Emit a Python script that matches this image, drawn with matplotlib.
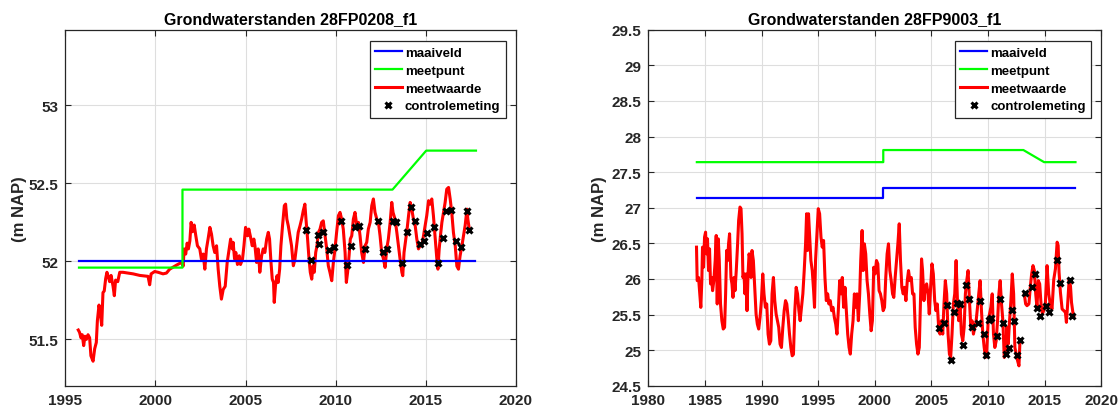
import numpy as np
import matplotlib
matplotlib.use("Agg")
import matplotlib.pyplot as plt
from matplotlib.ticker import FuncFormatter

plt.rcParams['font.family'] = ['Liberation Sans', 'DejaVu Sans']
plt.rcParams['font.weight'] = 'bold'

# ---- left well 28FP0208_f1 ----
l_title = "Grondwaterstanden 28FP0208_f1"
l_maaiveld_x = [1995.76, 2017.75]
l_maaiveld_y = [52.0, 52.0]
l_meetpunt_x = [1995.76, 2001.5, 2001.5, 2013.15, 2015.02, 2017.78]
l_meetpunt_y = [51.96, 51.96, 52.46, 52.46, 52.71, 52.71]
l_years = [1995.72, 1995.79, 1995.87, 1995.94, 1996.02, 1996.09, 1996.17, 1996.26, 1996.35, 1996.42,
           1996.54, 1996.63, 1996.72, 1996.78, 1996.87, 1996.94, 1997.02, 1997.09, 1997.16, 1997.24,
           1997.31, 1997.39, 1997.46, 1997.54, 1997.65, 1997.72, 1997.79, 1997.91, 1998.02, 1998.2,
           1998.48, 1998.76, 1999.13, 1999.59, 1999.68, 1999.76, 1999.96, 2000.15, 2000.42, 2000.61,
           2000.79, 2001.17, 2001.44, 2001.54, 2001.59, 2001.68, 2001.76, 2001.83, 2001.91, 2001.98,
           2002.05, 2002.15, 2002.24, 2002.33, 2002.46, 2002.55, 2002.65, 2002.74, 2002.83, 2002.92,
           2003.02, 2003.11, 2003.2, 2003.29, 2003.39, 2003.48, 2003.57, 2003.66, 2003.76, 2003.87,
           2003.98, 2004.09, 2004.17, 2004.26, 2004.31, 2004.39, 2004.46, 2004.55, 2004.65, 2004.72,
           2004.83, 2004.91, 2005.0, 2005.11, 2005.18, 2005.28, 2005.37, 2005.46, 2005.52, 2005.61,
           2005.7, 2005.79, 2005.89, 2005.98, 2006.07, 2006.17, 2006.26, 2006.33, 2006.41, 2006.48,
           2006.55, 2006.59, 2006.66, 2006.74, 2006.81, 2006.89, 2006.96, 2007.05, 2007.15, 2007.22,
           2007.29, 2007.37, 2007.46, 2007.55, 2007.65, 2007.74, 2007.83, 2007.92, 2008.02, 2008.11,
           2008.2, 2008.29, 2008.35, 2008.44, 2008.52, 2008.59, 2008.67, 2008.74, 2008.81, 2008.89,
           2008.96, 2009.04, 2009.13, 2009.22, 2009.31, 2009.41, 2009.5, 2009.59, 2009.68, 2009.78,
           2009.87, 2009.96, 2010.05, 2010.15, 2010.24, 2010.33, 2010.42, 2010.52, 2010.59, 2010.66,
           2010.74, 2010.81, 2010.89, 2010.98, 2011.07, 2011.17, 2011.26, 2011.35, 2011.44, 2011.54,
           2011.63, 2011.72, 2011.81, 2011.91, 2012.0, 2012.09, 2012.18, 2012.28, 2012.37, 2012.46,
           2012.55, 2012.65, 2012.74, 2012.83, 2012.92, 2013.02, 2013.11, 2013.18, 2013.29, 2013.39,
           2013.48, 2013.57, 2013.67, 2013.72, 2013.79, 2013.89, 2013.96, 2014.04, 2014.13, 2014.22,
           2014.31, 2014.41, 2014.5, 2014.59, 2014.68, 2014.78, 2014.87, 2014.96, 2015.05, 2015.15,
           2015.24, 2015.33, 2015.42, 2015.52, 2015.61, 2015.67, 2015.74, 2015.81, 2015.89, 2015.98,
           2016.07, 2016.16, 2016.26, 2016.35, 2016.44, 2016.53, 2016.63, 2016.72, 2016.81, 2016.9,
           2017.0, 2017.09, 2017.18, 2017.28, 2017.33, 2017.41, 2017.46]
l_levels = [51.56, 51.545, 51.51, 51.53, 51.46, 51.52, 51.5, 51.53, 51.51, 51.395,
            51.36, 51.44, 51.48, 51.62, 51.72, 51.67, 51.59, 51.8, 51.81, 51.89,
            51.93, 51.9, 51.87, 51.91, 51.84, 51.78, 51.88, 51.87, 51.93, 51.93,
            51.925, 51.92, 51.91, 51.904, 51.85, 51.92, 51.935, 51.93, 51.92, 51.925,
            51.95, 51.976, 51.993, 51.97, 52.08, 52.047, 52.117, 52.08, 52.132, 52.25,
            52.19, 52.233, 52.164, 52.1, 52.08, 52.015, 52.047, 51.95, 52.08, 52.143,
            52.218, 52.175, 52.1, 52.057, 52.1, 51.95, 51.84, 51.758, 51.82, 51.84,
            51.993, 52.08, 52.143, 52.08, 52.122, 52.015, 52.057, 51.98, 52.036, 51.98,
            52.015, 52.1, 52.218, 52.164, 52.207, 52.154, 52.1, 52.143, 52.1, 51.993,
            52.08, 51.93, 52.036, 52.08, 52.057, 52.143, 52.186, 52.143, 51.993, 51.886,
            51.865, 51.737, 51.844, 51.908, 51.865, 51.95, 52.1, 52.228, 52.357, 52.367,
            52.271, 52.228, 52.164, 52.1, 51.972, 52.015, 52.1, 52.186, 52.228, 52.271,
            52.325, 52.367, 52.271, 52.143, 52.015, 51.93, 51.886, 51.972, 51.93, 52.057,
            52.1, 52.186, 52.207, 52.25, 52.26, 52.164, 52.08, 51.972, 51.93, 51.876,
            51.993, 52.08, 52.186, 52.293, 52.314, 52.271, 52.207, 52.057, 51.865, 51.93,
            52.036, 52.143, 52.164, 52.271, 52.314, 52.228, 52.25, 52.164, 52.057, 51.993,
            52.1, 52.122, 52.207, 52.25, 52.357, 52.4, 52.314, 52.271, 52.25, 52.164,
            52.057, 52.015, 51.961, 52.08, 52.143, 52.25, 52.378, 52.314, 52.271, 52.186,
            52.1, 52.015, 51.93, 51.908, 52.057, 52.143, 52.207, 52.293, 52.378, 52.335,
            52.271, 52.228, 52.143, 52.08, 52.1, 52.1, 52.164, 52.228, 52.293, 52.389,
            52.367, 52.4, 52.293, 52.143, 52.015, 51.95, 52.08, 52.164, 52.25, 52.314,
            52.378, 52.463, 52.474, 52.4, 52.31, 52.185, 52.1, 51.97, 51.95, 52.036,
            52.1, 52.164, 52.23, 52.335, 52.27, 52.207, 52.196]
l_ctrl_x = [2008.33, 2008.61, 2009.02, 2009.09, 2009.31, 2009.63, 2009.91, 2010.31, 2010.61, 2010.85,
            2011.05, 2011.31, 2011.63, 2012.37, 2012.63, 2012.85, 2013.2, 2013.37, 2013.66, 2013.96,
            2014.15, 2014.39, 2014.65, 2014.89, 2015.07, 2015.46, 2015.67, 2015.94, 2016.11, 2016.38,
            2016.65, 2016.94, 2017.31, 2017.42]
l_ctrl_y = [52.203, 52.01, 52.169, 52.109, 52.19, 52.07, 52.09, 52.26, 51.978, 52.1,
            52.22, 52.228, 52.079, 52.26, 52.06, 52.079, 52.26, 52.25, 51.987, 52.19,
            52.35, 52.26, 52.109, 52.13, 52.18, 52.22, 51.987, 52.15, 52.32, 52.33,
            52.132, 52.09, 52.32, 52.2]

# ---- right well 28FP9003_f1 ----
r_title = "Grondwaterstanden 28FP9003_f1"
r_maaiveld_x = [1984.29, 2000.75, 2000.75, 2017.72]
r_maaiveld_y = [27.14, 27.14, 27.28, 27.28]
r_meetpunt_x = [1984.29, 2000.75, 2000.75, 2013.12, 2014.95, 2017.72]
r_meetpunt_y = [27.64, 27.64, 27.81, 27.81, 27.64, 27.64]
r_years = [1984.26, 1984.32, 1984.44, 1984.55, 1984.64, 1984.73, 1984.79, 1984.88, 1984.97, 1985.06,
           1985.14, 1985.23, 1985.32, 1985.41, 1985.5, 1985.59, 1985.68, 1985.79, 1985.91, 1986.0,
           1986.09, 1986.18, 1986.27, 1986.38, 1986.5, 1986.62, 1986.74, 1986.83, 1986.92, 1987.01,
           1987.09, 1987.18, 1987.3, 1987.39, 1987.48, 1987.57, 1987.66, 1987.77, 1987.89, 1987.98,
           1988.1, 1988.19, 1988.28, 1988.36, 1988.45, 1988.54, 1988.63, 1988.72, 1988.81, 1988.9,
           1988.98, 1989.07, 1989.16, 1989.28, 1989.4, 1989.52, 1989.63, 1989.75, 1989.87, 1989.99,
           1990.11, 1990.22, 1990.34, 1990.46, 1990.58, 1990.7, 1990.82, 1990.93, 1991.05, 1991.17,
           1991.29, 1991.41, 1991.52, 1991.64, 1991.76, 1991.88, 1992.0, 1992.12, 1992.23, 1992.35,
           1992.47, 1992.59, 1992.71, 1992.82, 1992.94, 1993.06, 1993.18, 1993.3, 1993.41, 1993.53,
           1993.65, 1993.77, 1993.89, 1993.98, 1994.06, 1994.15, 1994.24, 1994.36, 1994.48, 1994.6,
           1994.68, 1994.77, 1994.89, 1995.01, 1995.13, 1995.25, 1995.36, 1995.48, 1995.6, 1995.72,
           1995.84, 1995.95, 1996.07, 1996.19, 1996.31, 1996.43, 1996.55, 1996.66, 1996.78, 1996.9,
           1997.02, 1997.13, 1997.25, 1997.37, 1997.49, 1997.61, 1997.73, 1997.84, 1997.96, 1998.08,
           1998.2, 1998.32, 1998.43, 1998.55, 1998.67, 1998.76, 1998.88, 1998.97, 1999.08, 1999.2,
           1999.32, 1999.44, 1999.56, 1999.68, 1999.79, 1999.91, 2000.03, 2000.15, 2000.27, 2000.38,
           2000.5, 2000.62, 2000.74, 2000.86, 2000.97, 2001.09, 2001.21, 2001.33, 2001.45, 2001.57,
           2001.68, 2001.8, 2001.92, 2002.04, 2002.16, 2002.27, 2002.39, 2002.51, 2002.63, 2002.75,
           2002.87, 2002.98, 2003.1, 2003.22, 2003.34, 2003.46, 2003.57, 2003.69, 2003.81, 2003.93,
           2004.05, 2004.13, 2004.22, 2004.34, 2004.46, 2004.58, 2004.7, 2004.81, 2004.93, 2005.05,
           2005.17, 2005.29, 2005.4, 2005.52, 2005.64, 2005.76, 2005.88, 2006.0, 2006.11, 2006.23,
           2006.35, 2006.47, 2006.59, 2006.7, 2006.82, 2006.94, 2007.06, 2007.18, 2007.3, 2007.41,
           2007.53, 2007.65, 2007.77, 2007.89, 2008.0, 2008.12, 2008.24, 2008.36, 2008.48, 2008.59,
           2008.71, 2008.83, 2008.95, 2009.07, 2009.18, 2009.3, 2009.42, 2009.54, 2009.66, 2009.78,
           2009.89, 2010.01, 2010.13, 2010.25, 2010.37, 2010.48, 2010.6, 2010.72, 2010.84, 2010.96,
           2011.07, 2011.19, 2011.31, 2011.43, 2011.55, 2011.67, 2011.78, 2011.9, 2012.02, 2012.14,
           2012.26, 2012.37, 2012.49, 2012.61, 2012.73, 2012.82, 2013.0, 2013.2, 2013.32, 2013.44,
           2013.61, 2013.73, 2013.85, 2013.97, 2014.09, 2014.21, 2014.32, 2014.44, 2014.56, 2014.68,
           2014.8, 2014.91, 2015.06, 2015.21, 2015.36, 2015.51, 2015.65, 2015.8, 2015.95, 2016.1,
           2016.19, 2016.27, 2016.39, 2016.54, 2016.69, 2016.83, 2016.92, 2017.04, 2017.16, 2017.28,
           2017.37, 2017.49, 2017.57]
r_levels = [26.446, 25.976, 26.02, 25.79, 25.6, 25.976, 26.446, 26.165, 26.587, 26.657,
            26.352, 26.563, 26.117, 26.422, 25.93, 26.02, 25.835, 25.976, 26.258, 26.61,
            25.648, 26.563, 26.258, 25.648, 25.413, 25.296, 25.32, 25.79, 26.399, 26.258,
            26.493, 26.634, 26.02, 25.93, 25.74, 26.02, 25.835, 26.117, 26.493, 26.821,
            27.009, 26.986, 26.634, 26.02, 26.07, 25.79, 26.07, 25.554, 26.07, 26.352,
            26.28, 26.02, 26.399, 26.258, 25.882, 25.507, 25.366, 25.296, 25.46, 25.695,
            26.07, 25.79, 25.601, 25.648, 25.225, 25.084, 25.131, 25.79, 26.02, 25.695,
            25.507, 25.413, 25.32, 25.084, 25.037, 25.32, 25.554, 25.695, 25.648, 25.46,
            25.225, 25.037, 24.92, 24.94, 25.554, 25.882, 25.79, 25.554, 25.413, 25.601,
            25.79, 26.117, 26.493, 26.915, 26.399, 26.915, 26.634, 26.258, 26.117, 25.835,
            25.601, 26.258, 26.634, 26.986, 26.915, 26.587, 26.446, 26.54, 26.02, 25.695,
            25.79, 25.648, 25.695, 25.554, 25.601, 25.46, 25.366, 25.225, 25.554, 25.976,
            25.79, 26.02, 25.601, 25.882, 25.554, 25.225, 25.037, 24.944, 25.225, 25.413,
            25.79, 25.601, 25.79, 25.413, 25.79, 26.258, 26.68, 26.117, 26.493, 26.352,
            25.976, 25.79, 25.507, 25.272, 25.413, 26.164, 26.07, 26.258, 26.211, 25.835,
            25.79, 25.695, 25.554, 25.601, 26.02, 26.352, 26.493, 26.117, 25.976, 25.79,
            25.74, 26.02, 26.258, 26.493, 26.774, 26.258, 25.882, 25.79, 25.882, 25.695,
            25.976, 26.117, 25.976, 26.02, 25.79, 25.79, 25.319, 25.084, 24.944, 25.037,
            25.79, 26.281, 26.117, 25.695, 25.882, 25.93, 25.79, 25.507, 25.882, 26.211,
            26.07, 25.695, 25.554, 25.648, 25.319, 25.225, 25.413, 25.225, 25.648, 25.976,
            25.79, 25.225, 24.944, 24.897, 25.225, 25.648, 25.79, 26.258, 25.695, 25.413,
            25.648, 25.225, 25.131, 25.319, 25.79, 25.976, 26.117, 25.695, 25.319, 25.413,
            25.225, 25.319, 25.413, 25.601, 25.79, 25.976, 25.554, 25.225, 25.037, 24.897,
            24.99, 25.413, 25.507, 25.601, 25.79, 25.225, 25.037, 25.131, 25.413, 25.79,
            25.976, 25.648, 25.413, 24.897, 24.99, 25.319, 25.084, 25.413, 25.695, 26.07,
            25.79, 25.037, 24.944, 24.85, 24.779, 25.131, np.nan, 25.79, 25.648, 25.624,
            25.648, 25.882, 26.07, 26.187, 26.117, 25.79, 25.601, 25.976, 25.93, 25.648,
            25.507, 25.554, 25.648, 26.187, 25.79, 25.624, 25.577, 25.99, 26.14, 26.516,
            26.47, 26.094, 25.812, 25.577, 25.554, 25.53, 25.39, 25.67, 25.99, 25.9,
            25.67, 25.53, 25.483]
r_ctrl_x = [2005.7, 2006.11, 2006.41, 2006.76, 2007.03, 2007.3, 2007.56, 2007.8, 2008.06, 2008.33,
            2008.54, 2009.07, 2009.27, 2009.6, 2009.81, 2010.07, 2010.28, 2010.81, 2011.05, 2011.31,
            2011.55, 2011.84, 2012.14, 2012.31, 2012.58, 2012.85, 2013.29, 2013.91, 2014.12, 2014.32,
            2014.62, 2015.09, 2015.36, 2016.1, 2016.33, 2017.28, 2017.42]
r_ctrl_y = [25.31, 25.375, 25.629, 24.859, 25.54, 25.667, 25.648, 25.075, 25.91, 25.713,
            25.324, 25.385, 25.685, 25.225, 24.934, 25.422, 25.455, 25.192, 25.713, 25.385,
            24.939, 25.028, 25.563, 25.404, 24.93, 25.141, 25.807, 25.892, 26.066, 25.596,
            25.474, 25.624, 25.535, 26.267, 25.943, 25.99, 25.483]

labels = ['maaiveld', 'meetpunt', 'meetwaarde', 'controlemeting']
dark = '#262626'


def draw_panel(ax, title, mv_x, mv_y, mp_x, mp_y, yrs, lev, cx, cy, xlim, ylim, yticks):
    h_red, = ax.plot(yrs, lev, color=(1, 0, 0), lw=2.2, zorder=2)
    h_mv, = ax.plot(mv_x, mv_y, color=(0, 0, 1), lw=1.6, zorder=3)
    h_mp, = ax.plot(mp_x, mp_y, color=(0, 1, 0), lw=1.6, zorder=3)
    h_ct, = ax.plot(cx, cy, 'x', color='k', ms=5, mew=2.2, zorder=4)
    ax.set_xlim(xlim)
    ax.set_ylim(ylim)
    ax.set_xticks(np.arange(xlim[0], xlim[1] + 1, 5))
    ax.set_yticks(yticks)
    ax.yaxis.set_major_formatter(FuncFormatter(lambda v, p: '%g' % v))
    ax.grid(True, color='#dedede', lw=0.8)
    ax.set_axisbelow(True)
    ax.tick_params(direction='in', length=4, width=0.8, top=True, right=True,
                   labelsize=11, colors=dark, pad=5)
    for lab in ax.get_xticklabels() + ax.get_yticklabels():
        lab.set_fontweight('bold')
    for s in ax.spines.values():
        s.set_color(dark)
        s.set_linewidth(0.9)
    ax.set_title(title, fontsize=11.5, fontweight='bold', pad=5)
    ax.set_ylabel('(m NAP)', fontsize=12, fontweight='bold', color=dark)
    leg = ax.legend([h_mv, h_mp, h_red, h_ct], labels, loc='upper right',
                    bbox_to_anchor=(0.977, 0.967), borderaxespad=0, fancybox=False,
                    prop={'size': 9.5, 'weight': 'bold'}, handlelength=2.0,
                    handletextpad=0.25, labelspacing=0.42, borderpad=0.4, framealpha=1)
    leg.get_frame().set_edgecolor(dark)
    leg.get_frame().set_linewidth(0.9)


fig = plt.figure(figsize=(11.2, 4.1), dpi=100)
ax1 = fig.add_axes([0.0583, 0.0568, 0.4024, 0.8683])
ax2 = fig.add_axes([0.5788, 0.0568, 0.4045, 0.8683])

draw_panel(ax1, l_title, l_maaiveld_x, l_maaiveld_y, l_meetpunt_x, l_meetpunt_y,
           l_years, l_levels, l_ctrl_x, l_ctrl_y, (1995, 2020), (51.203, 53.485),
           [51.5, 52, 52.5, 53])
draw_panel(ax2, r_title, r_maaiveld_x, r_maaiveld_y, r_meetpunt_x, r_meetpunt_y,
           r_years, r_levels, r_ctrl_x, r_ctrl_y, (1980, 2020), (24.5, 29.5),
           np.arange(24.5, 29.51, 0.5))
ax1.yaxis.set_label_coords(-0.085, 0.5)
ax2.yaxis.set_label_coords(-0.09, 0.5)

fig.savefig('out.png', dpi=100)
